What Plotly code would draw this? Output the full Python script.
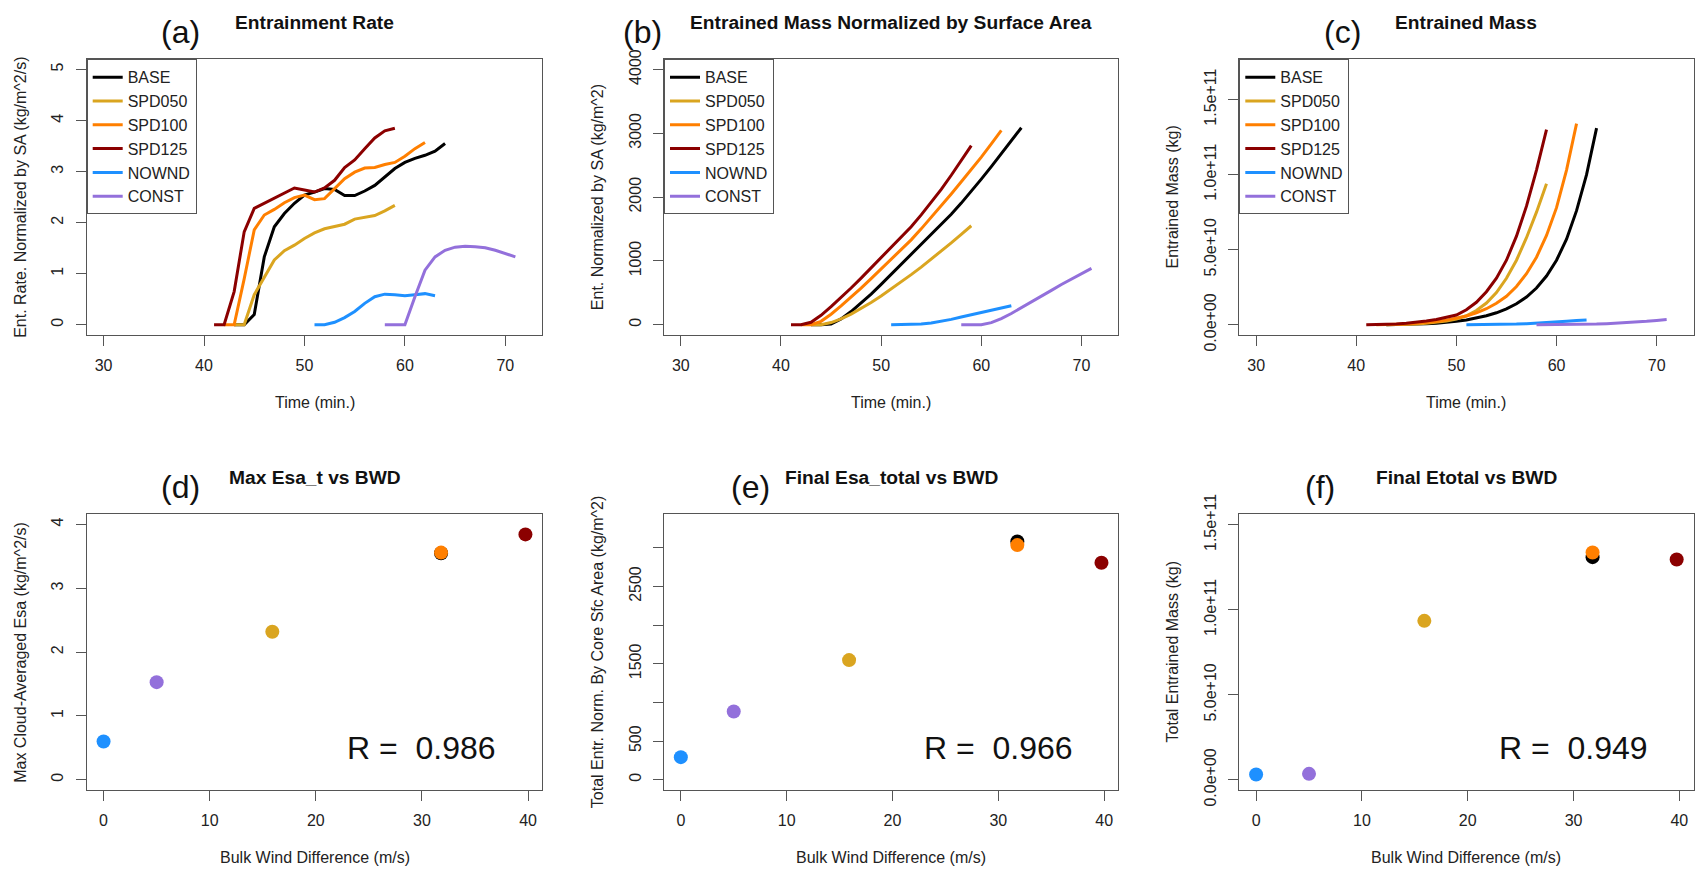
import plotly.graph_objects as go

FONT = "Liberation Sans, Arial, Helvetica, sans-serif"
W, H = 1695, 872

runs = ["BASE", "SPD050", "SPD100", "SPD125", "NOWND", "CONST"]
colors = ["#000000", "#DAA520", "#FF7F00", "#8B0000", "#1E90FF", "#9370DB"]

# time (min.) for each run
t_base = [43, 44, 45, 46, 47, 48, 49, 50, 51, 52, 53, 54, 55, 56, 57, 58, 59, 60, 61, 62, 63, 64]
t_spd050 = [43, 44, 45, 46, 47, 48, 49, 50, 51, 52, 53, 54, 55, 56, 57, 58, 59]
t_spd100 = [42, 43, 44, 45, 46, 47, 48, 49, 50, 51, 52, 53, 54, 55, 56, 57, 58, 59, 60, 61, 62]
t_spd125 = [41, 42, 43, 44, 45, 46, 47, 48, 49, 50, 51, 52, 53, 54, 55, 56, 57, 58, 59]
t_nownd = [51, 52, 53, 54, 55, 56, 57, 58, 59, 60, 61, 62, 63]
t_const = [58, 59, 60, 61, 62, 63, 64, 65, 66, 67, 68, 69, 70, 71]

# (a) entrainment rate normalized by SA (kg/m^2/s)
rate_base = [0, 0, 0.2, 1.33, 1.92, 2.18, 2.38, 2.54, 2.60, 2.67, 2.65, 2.53, 2.53, 2.62, 2.73, 2.90, 3.06, 3.18, 3.26, 3.32, 3.40, 3.55]
rate_spd050 = [0, 0, 0.59, 0.94, 1.27, 1.45, 1.56, 1.69, 1.80, 1.88, 1.92, 1.97, 2.07, 2.10, 2.14, 2.23, 2.34]
rate_spd100 = [0, 0, 0.9, 1.86, 2.15, 2.26, 2.39, 2.49, 2.54, 2.45, 2.47, 2.67, 2.86, 2.99, 3.07, 3.08, 3.14, 3.18, 3.30, 3.45, 3.57]
rate_spd125 = [0, 0, 0.65, 1.82, 2.28, 2.38, 2.47, 2.58, 2.68, 2.64, 2.60, 2.68, 2.83, 3.08, 3.23, 3.45, 3.66, 3.80, 3.85]
rate_nownd = [0, 0, 0.05, 0.14, 0.26, 0.42, 0.55, 0.60, 0.59, 0.57, 0.59, 0.61, 0.57]
rate_const = [0, 0, 0, 0.55, 1.07, 1.33, 1.46, 1.52, 1.54, 1.53, 1.51, 1.46, 1.40, 1.33]

# (b) entrained mass normalized by surface area (kg/m^2)
esa_base = [0, 0, 12, 92, 207, 338, 481, 633, 789, 949, 1108, 1260, 1412, 1569, 1733, 1907, 2091, 2282, 2478, 2677, 2881, 3088]
esa_spd050 = [0, 0, 35, 92, 168, 255, 349, 450, 558, 671, 786, 904, 1028, 1154, 1283, 1417, 1552]
esa_spd100 = [0, 0, 54, 166, 295, 430, 574, 723, 876, 1023, 1171, 1331, 1503, 1682, 1866, 2051, 2240, 2430, 2628, 2835, 3045]
esa_spd125 = [0, 0, 39, 148, 285, 428, 576, 731, 892, 1050, 1206, 1367, 1537, 1722, 1916, 2123, 2343, 2571, 2808]
esa_nownd = [0, 0, 3, 11, 27, 52, 85, 121, 157, 191, 226, 263, 297]
esa_const = [0, 0, 0, 33, 97, 177, 265, 356, 448, 540, 631, 718, 802, 884]

# (c) entrained mass (kg)
mass_base = [0, 1e8, 2e8, 4e8, 7e8, 1.1e9, 1.6e9, 2.3e9, 3.2e9, 4.4e9, 6.0e9, 8.0e9, 1.06e10, 1.4e10, 1.85e10, 2.45e10, 3.25e10, 4.3e10, 5.7e10, 7.6e10, 1.0e11, 1.31e11]
mass_spd050 = [0, 1e8, 3e8, 6e8, 1.0e9, 1.6e9, 2.5e9, 3.8e9, 6.0e9, 9.5e9, 1.45e10, 2.15e10, 3.1e10, 4.3e10, 5.8e10, 7.5e10, 9.4e10]
mass_spd100 = [0, 1e8, 3e8, 6e8, 1.0e9, 1.5e9, 2.2e9, 3.1e9, 4.3e9, 5.9e9, 8.0e9, 1.07e10, 1.43e10, 1.9e10, 2.55e10, 3.4e10, 4.5e10, 5.95e10, 7.8e10, 1.03e11, 1.34e11]
mass_spd125 = [0, 1e8, 3e8, 6e8, 1.0e9, 1.6e9, 2.5e9, 3.5e9, 4.8e9, 6.5e9, 1.0e10, 1.5e10, 2.2e10, 3.1e10, 4.3e10, 5.9e10, 7.9e10, 1.03e11, 1.30e11]
mass_nownd = [0, 2e7, 5e7, 1.2e8, 2.5e8, 4.5e8, 7e8, 1.0e9, 1.4e9, 1.8e9, 2.3e9, 2.8e9, 3.2e9]
mass_const = [0, 0, 0, 5e7, 1.5e8, 3e8, 5e8, 7.5e8, 1.05e9, 1.4e9, 1.8e9, 2.3e9, 2.9e9, 3.5e9]

# (d)-(f) summary vs bulk wind difference (m/s)
bwd = [31.8, 15.9, 31.8, 39.75, 0.0, 5.0]
max_esa_t = [3.55, 2.32, 3.56, 3.845, 0.60, 1.53]
final_esa = [3082, 1548, 3035, 2806, 293, 883]
final_mass = [1.31e11, 9.35e10, 1.337e11, 1.296e11, 3.1e9, 3.5e9]
r_values = ["0.986", "0.966", "0.949"]

times = [t_base, t_spd050, t_spd100, t_spd125, t_nownd, t_const]
rates = [rate_base, rate_spd050, rate_spd100, rate_spd125, rate_nownd, rate_const]
esas = [esa_base, esa_spd050, esa_spd100, esa_spd125, esa_nownd, esa_const]
masses = [mass_base, mass_spd050, mass_spd100, mass_spd125, mass_nownd, mass_const]

fig = go.Figure()

for panel, (series, leg) in enumerate([(rates, "legend"), (esas, "legend2"), (masses, "legend3")]):
    ax = "" if panel == 0 else str(panel + 1)
    for name, col, t, v in zip(runs, colors, times, series):
        fig.add_trace(go.Scatter(
            x=t, y=v, mode="lines", name=name,
            line=dict(color=col, width=3),
            xaxis="x" + ax, yaxis="y" + ax, legend=leg, showlegend=True,
        ))

for panel, vals in enumerate([max_esa_t, final_esa, final_mass]):
    ax = str(panel + 4)
    for name, col, xb, yv in zip(runs, colors, bwd, vals):
        fig.add_trace(go.Scatter(
            x=[xb], y=[yv], mode="markers", name=name,
            marker=dict(color=col, size=14, line=dict(width=0)),
            xaxis="x" + ax, yaxis="y" + ax, showlegend=False,
        ))

# plot boxes in pixels
cols = [(86.7, 542.3), (664.0, 1118.3), (1239.3, 1693.5)]
rows = [(59.3, 335.0), (514.3, 790.0)]

def xd(c):
    return [c[0] / W, c[1] / W]

def yd(r):
    return [1 - r[1] / H, 1 - r[0] / H]

line_col = "#555555"
txt_col = "#222222"
base_axis = dict(showline=True, mirror=True, linecolor=line_col, linewidth=1,
                 ticks="outside", ticklen=10, tickcolor=line_col, tickwidth=1,
                 showgrid=False, zeroline=False, tickmode="array", automargin=False,
                 tickfont=dict(family=FONT, size=16, color=txt_col))

layout = dict(width=W, height=H, margin=dict(l=0, r=0, t=0, b=0, autoexpand=False),
              paper_bgcolor="white", plot_bgcolor="white",
              font=dict(family=FONT, size=16, color=txt_col))

time_ticks = [30, 40, 50, 60, 70]
bwd_ticks = [0, 10, 20, 30, 40]
yspecs = [
    dict(range=[-0.2, 5.2], tickvals=[0, 1, 2, 3, 4, 5], ticktext=["0", "1", "2", "3", "4", "5"]),
    dict(range=[-160, 4160], tickvals=[0, 1000, 2000, 3000, 4000], ticktext=["0", "1000", "2000", "3000", "4000"]),
    dict(range=[-6.8e9, 1.768e11], tickvals=[0, 5e10, 1e11, 1.5e11], ticktext=["0.0e+00", "5.0e+10", "1.0e+11", "1.5e+11"]),
    dict(range=[-0.16, 4.16], tickvals=[0, 1, 2, 3, 4], ticktext=["0", "1", "2", "3", "4"]),
    dict(range=[-132, 3433], tickvals=[0, 500, 1000, 1500, 2000, 2500, 3000], ticktext=["0", "500", "", "1500", "", "2500", ""]),
    dict(range=[-6.0e9, 1.562e11], tickvals=[0, 5e10, 1e11, 1.5e11], ticktext=["0.0e+00", "5.0e+10", "1.0e+11", "1.5e+11"]),
]

for i in range(6):
    ax = "" if i == 0 else str(i + 1)
    c = cols[i % 3]
    r = rows[i // 3]
    if i < 3:
        xs = dict(range=[28.32, 73.68], tickvals=time_ticks, ticktext=[str(v) for v in time_ticks])
    else:
        xs = dict(range=[-1.59, 41.34], tickvals=bwd_ticks, ticktext=[str(v) for v in bwd_ticks])
    layout["xaxis" + ax] = dict(base_axis, domain=xd(c), anchor="y" + ax, ticklabelstandoff=6, **xs)
    layout["yaxis" + ax] = dict(base_axis, domain=yd(r), anchor="x" + ax, tickangle=-90, ticklabelstandoff=6, **yspecs[i])

for k, c in zip(["legend", "legend2", "legend3"], cols):
    layout[k] = dict(x=c[0] / W, y=1 - rows[0][0] / H, xanchor="left", yanchor="top",
                     bordercolor=line_col, borderwidth=1, bgcolor="white",
                     font=dict(family=FONT, size=16, color=txt_col), tracegroupgap=0)

fig.update_layout(**layout)

ann = []
titles = ["Entrainment Rate", "Entrained Mass Normalized by Surface Area", "Entrained Mass",
          "Max Esa_t vs BWD", "Final Esa_total vs BWD", "Final Etotal vs BWD"]
tags = ["(a)", "(b)", "(c)", "(d)", "(e)", "(f)"]
tag_x = [180, 642, 1342, 180, 750, 1320]
ylabels = ["Ent. Rate. Normalized by SA (kg/m^2/s)", "Ent. Normalized by SA (kg/m^2)", "Entrained Mass (kg)",
           "Max Cloud-Averaged Esa (kg/m^2/s)", "Total Entr. Norm. By Core Sfc Area (kg/m^2)", "Total Entrained Mass (kg)"]
xlabels = ["Time (min.)"] * 3 + ["Bulk Wind Difference (m/s)"] * 3
for i in range(6):
    ax = "" if i == 0 else str(i + 1)
    row_off = 0 if i < 3 else 455
    ann.append(dict(xref="x" + ax + " domain", yref="paper", x=0.5, y=1 - (22 + row_off) / H,
                    text="<b>" + titles[i] + "</b>", showarrow=False, xanchor="center", yanchor="middle",
                    font=dict(family=FONT, size=19.2, color="#111111")))
    ann.append(dict(xref="paper", yref="paper", x=tag_x[i] / W, y=1 - (31.5 + row_off) / H,
                    text=tags[i], showarrow=False, xanchor="center", yanchor="middle",
                    font=dict(family=FONT, size=32, color="#111111")))
    ann.append(dict(xref="x" + ax + " domain", yref="y" + ax + " domain", x=0, y=0.5, xshift=-67,
                    text=ylabels[i], showarrow=False, textangle=-90, xanchor="center", yanchor="middle",
                    font=dict(family=FONT, size=16, color=txt_col)))
    ann.append(dict(xref="x" + ax + " domain", yref="y" + ax + " domain", x=0.5, y=0, yshift=-67,
                    text=xlabels[i], showarrow=False, xanchor="center", yanchor="middle",
                    font=dict(family=FONT, size=16, color=txt_col)))

r_y = [0.5, 410, 1.86e10]
for j in range(3):
    ax = str(j + 4)
    ann.append(dict(xref="x" + ax, yref="y" + ax, x=30, y=r_y[j],
                    text="R = \u00a0" + r_values[j], showarrow=False, xanchor="center", yanchor="middle",
                    font=dict(family=FONT, size=32, color="#111111")))

fig.update_layout(annotations=ann)
fig.write_html("out.html")
